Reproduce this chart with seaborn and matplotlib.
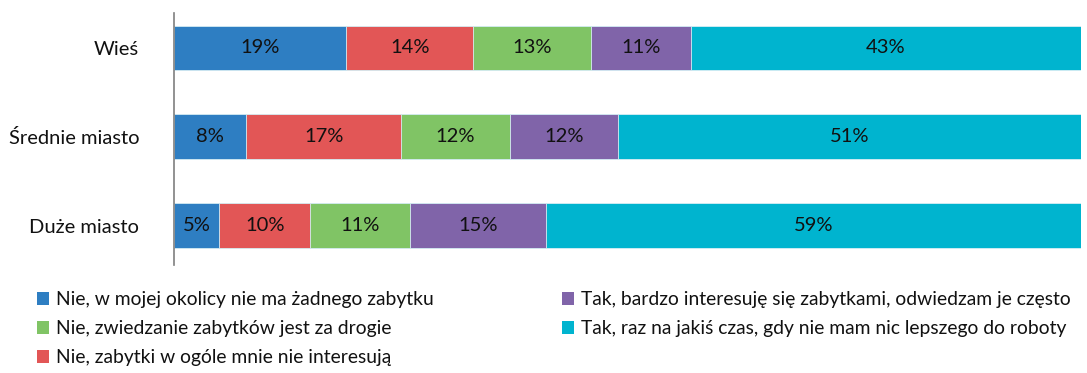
import numpy as np
import pandas as pd
import matplotlib
matplotlib.use("Agg")
import matplotlib.pyplot as plt
from matplotlib.patches import Patch
import seaborn as sns

categories = ["Wieś", "Średnie miasto", "Duże miasto"]
series_names = [
    "Nie, w mojej okolicy nie ma żadnego zabytku",
    "Nie, zabytki w ogóle mnie nie interesują",
    "Nie, zwiedzanie zabytków jest za drogie",
    "Tak, bardzo interesuję się zabytkami, odwiedzam je często",
    "Tak, raz na jakiś czas, gdy nie mam nic lepszego do roboty",
]
no_monuments = [19, 8, 5]
not_interested = [14, 17, 10]
too_expensive = [13, 12, 11]
very_interested = [11, 12, 15]
sometimes = [43, 51, 59]

colors = ["#2E7EC2", "#E25656", "#80C465", "#8064A9", "#00B4CF"]

sns.set_theme(style="white")
plt.rcParams["font.family"] = ["Lato", "DejaVu Sans"]

FS = 14.5
LEG_FS = 13.9

values = [no_monuments, not_interested, too_expensive, very_interested, sometimes]
df = pd.DataFrame({name: v for name, v in zip(series_names, values)}, index=categories)
cum = df.cumsum(axis=1)

fig = plt.figure(figsize=(10.87, 3.73), dpi=100)
ax = fig.add_axes([0.160, 0.290, 0.9945 - 0.160, 0.965 - 0.290])

# stacked bars: draw cumulative totals from the outermost layer inwards
for name, color in reversed(list(zip(series_names, colors))):
    layer = pd.DataFrame({"cat": categories, "total": cum[name].values})
    sns.barplot(data=layer, x="total", y="cat", order=categories, color=color,
                width=0.5, edgecolor="#d8eef5", linewidth=0.6, saturation=1,
                ax=ax)

# segment value labels
for i, cat in enumerate(categories):
    left = 0
    for name in series_names:
        v = df.loc[cat, name]
        ax.text(left + v / 2, i, f"{v}%", ha="center", va="center",
                fontsize=FS, color="#111111")
        left += v

ax.set_xlim(0, 100)
ax.set_ylim(2.44, -0.39)
ax.set_xlabel("")
ax.set_ylabel("")
ax.set_xticks([])
ax.tick_params(axis="y", length=0, pad=25, labelsize=FS, labelcolor="#111111")
for side in ["top", "right", "bottom"]:
    ax.spines[side].set_visible(False)
ax.spines["left"].set_color("#7f7f7f")
ax.spines["left"].set_linewidth(1.2)

order = [0, 2, 1, 3, 4]
handles = [Patch(facecolor=colors[k], edgecolor="none") for k in order]
labels = [series_names[k] for k in order]
fig.legend(handles, labels, ncol=2, loc="upper left",
           bbox_to_anchor=(0.027, 0.240), frameon=False, fontsize=LEG_FS,
           handlelength=0.62, handleheight=0.62, handletextpad=0.35,
           columnspacing=6.65, labelspacing=0.62, borderaxespad=0,
           labelcolor="#111111")

fig.savefig("out.png", dpi=100)
